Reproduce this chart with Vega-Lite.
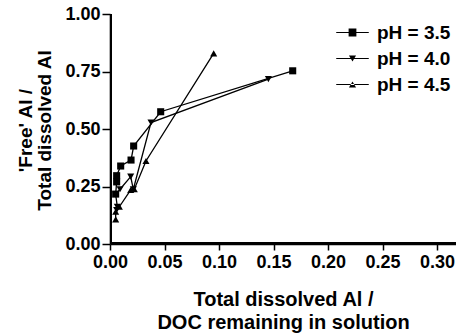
{
  "$schema": "https://vega.github.io/schema/vega-lite/v6.json",
  "autosize": {"type": "none"},
  "width": 346,
  "height": 230,
  "padding": {"left": 110, "top": 14, "right": 0, "bottom": 90},
  "background": "white",
  "config": {
    "view": {"stroke": null, "fill": null},
    "font": "Liberation Sans",
    "axis": {
      "tickColor": "#000000", "tickWidth": 1.5, "zindex": 1,
      "labelColor": "black", "titleColor": "black", "grid": false,
      "labelFont": "Liberation Sans", "labelFontWeight": "bold", "labelFontSize": 18,
      "titleFont": "Liberation Sans", "titleFontWeight": "bold", "titleFontSize": 19
    }
  },
  "data": {"values": [
    {"series": "pH = 3.5", "o": 1, "x": 0.0052, "y": 0.217},
    {"series": "pH = 3.5", "o": 2, "x": 0.0061, "y": 0.270},
    {"series": "pH = 3.5", "o": 3, "x": 0.0061, "y": 0.297},
    {"series": "pH = 3.5", "o": 4, "x": 0.0098, "y": 0.339},
    {"series": "pH = 3.5", "o": 5, "x": 0.0193, "y": 0.365},
    {"series": "pH = 3.5", "o": 6, "x": 0.0217, "y": 0.426},
    {"series": "pH = 3.5", "o": 7, "x": 0.0465, "y": 0.575},
    {"series": "pH = 3.5", "o": 8, "x": 0.1676, "y": 0.753},
    {"series": "pH = 4.0", "o": 1, "x": 0.0061, "y": 0.148},
    {"series": "pH = 4.0", "o": 2, "x": 0.0067, "y": 0.162},
    {"series": "pH = 4.0", "o": 3, "x": 0.0052, "y": 0.215},
    {"series": "pH = 4.0", "o": 4, "x": 0.0092, "y": 0.238},
    {"series": "pH = 4.0", "o": 5, "x": 0.0190, "y": 0.293},
    {"series": "pH = 4.0", "o": 6, "x": 0.0214, "y": 0.238},
    {"series": "pH = 4.0", "o": 7, "x": 0.0376, "y": 0.528},
    {"series": "pH = 4.0", "o": 8, "x": 0.1453, "y": 0.717},
    {"series": "pH = 4.5", "o": 1, "x": 0.0052, "y": 0.107},
    {"series": "pH = 4.5", "o": 2, "x": 0.0052, "y": 0.140},
    {"series": "pH = 4.5", "o": 3, "x": 0.0086, "y": 0.162},
    {"series": "pH = 4.5", "o": 4, "x": 0.0190, "y": 0.235},
    {"series": "pH = 4.5", "o": 5, "x": 0.0223, "y": 0.238},
    {"series": "pH = 4.5", "o": 6, "x": 0.0330, "y": 0.361},
    {"series": "pH = 4.5", "o": 7, "x": 0.0951, "y": 0.829}
  ]},
  "layer": [
    {"mark": {"type": "line", "color": "black", "strokeWidth": 1.3},
     "encoding": {
       "x": {"field": "x", "type": "quantitative",
         "scale": {"domain": [0, 0.3174], "nice": false},
         "axis": {"values": [0, 0.05, 0.1, 0.15, 0.2, 0.25, 0.3], "format": ".2f", "tickSize": 6, "labelPadding": 3,
           "labelFlush": false, "labelOverlap": false,
           "domain": true, "domainColor": "#000000", "domainWidth": 1.6,
           "title": ["Total dissolved Al /", "DOC remaining in solution"], "titleFontSize": 20, "titlePadding": 18, "titleLineHeight": 23}},
       "y": {"field": "y", "type": "quantitative",
         "scale": {"domain": [0, 1], "nice": false},
         "axis": {"values": [0, 0.25, 0.5, 0.75, 1], "format": ".2f", "tickSize": 8, "labelPadding": 2,
           "labelFlush": false, "labelOverlap": false,
           "domain": true, "domainColor": "#000000", "domainWidth": 1.6,
           "title": ["'Free' Al /", "Total dissolved Al"], "titlePadding": 10, "titleLineHeight": 19, "titleY": 116}},
       "detail": {"field": "series"}, "order": {"field": "o", "type": "quantitative"}}},
    {"mark": {"type": "rect", "color": "black"},
     "encoding": {"x": {"datum": 0, "type": "quantitative"}, "x2": {"datum": 0.0015},
                  "y": {"datum": 0, "type": "quantitative"}, "y2": {"datum": 1}}},
    {"mark": {"type": "rect", "color": "black"},
     "encoding": {"x": {"datum": 0, "type": "quantitative"}, "x2": {"datum": 0.3174},
                  "y": {"datum": 0, "type": "quantitative"}, "y2": {"datum": 0.007}}},
    {"mark": {"type": "point", "filled": true, "color": "black", "opacity": 1, "size": 50},
     "encoding": {
       "x": {"field": "x", "type": "quantitative"},
       "y": {"field": "y", "type": "quantitative"},
       "shape": {"field": "series", "type": "nominal",
       "scale": {"domain": ["pH = 3.5", "pH = 4.0", "pH = 4.5"], "range": ["square", "triangle-down", "triangle-up"]},
       "legend": null}}},
    {"mark": {"type": "point", "filled": true, "color": "black", "opacity": 0, "size": 50},
     "encoding": {
       "x": {"field": "x", "type": "quantitative"},
       "y": {"field": "y", "type": "quantitative"},
       "shape": {"field": "series", "type": "nominal",
       "scale": {"domain": ["pH = 3.5", "pH = 4.0", "pH = 4.5"],
         "range": ["M-2.3,-0.08L2.3,-0.08L2.3,0.08L-2.3,0.08ZM-0.55,-0.55L0.55,-0.55L0.55,0.55L-0.55,0.55Z", "M-2.3,-0.08L2.3,-0.08L2.3,0.08L-2.3,0.08ZM-0.5,-0.42L0.5,-0.42L0,0.42Z", "M-2.3,-0.08L2.3,-0.08L2.3,0.08L-2.3,0.08ZM-0.5,0.42L0.5,0.42L0,-0.42Z"]},
       "legend": {"title": null, "orient": "none", "legendX": 233, "legendY": 9, "padding": 0,
         "symbolSize": 200, "symbolOpacity": 1, "symbolFillColor": "black", "symbolStrokeColor": "black", "symbolStrokeWidth": 0.5,
         "labelFont": "Liberation Sans", "labelFontWeight": "bold", "labelFontSize": 19, "labelColor": "black",
         "labelOffset": 15, "rowPadding": 6, "symbolOffset": 0,
         "encode": {"symbols": {"update": {
           "stroke": {"value": "black"}, "strokeWidth": {"value": 0.5}, "fill": {"value": "black"}, "opacity": {"value": 1}
         }}}}}}}
  ],
  "resolve": {"scale": {"shape": "independent"}}
}
